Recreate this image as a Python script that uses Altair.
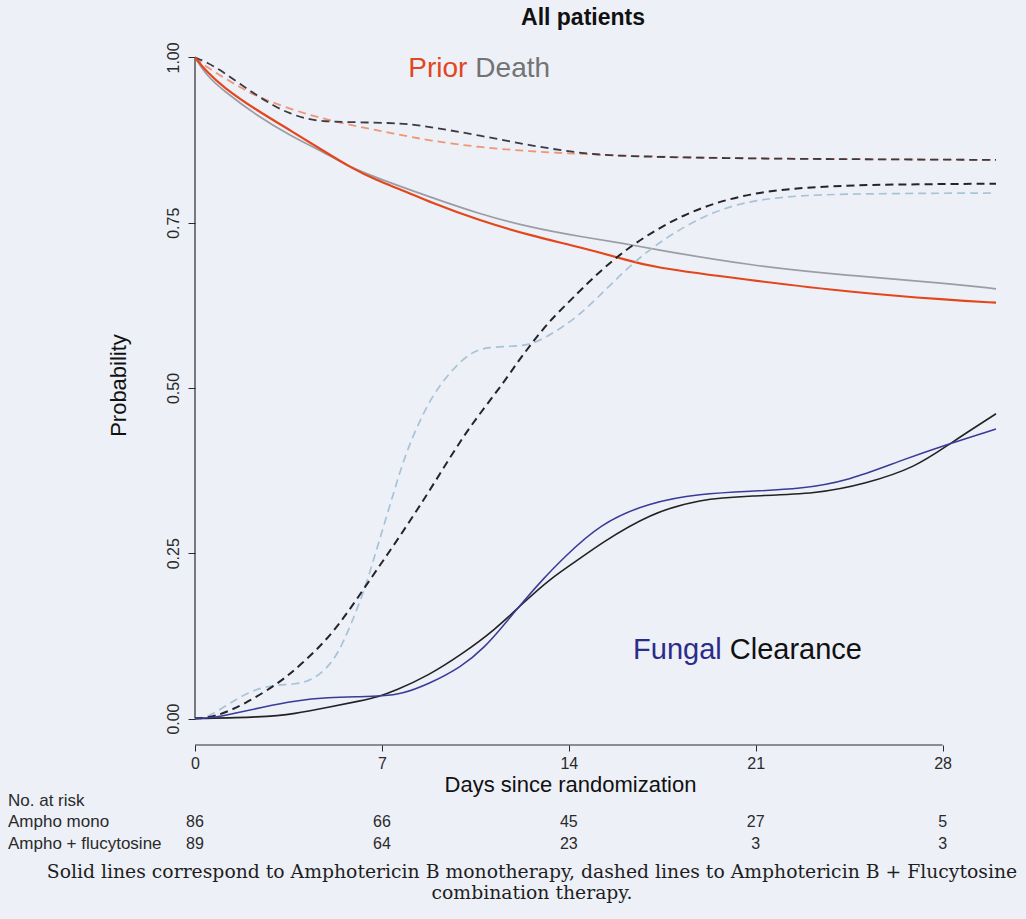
import altair as alt
import pandas as pd

# ---- curves: cumulative probability by day since randomization ----
prior_mono_day = [0, 0.44, 1.06, 2.31, 3.56, 4.8, 5.8, 6.8, 7.8, 8.8, 10.67, 12.54, 14.41, 16.16, 17.03, 20.8, 24.52, 28.27, 30]
prior_mono_p = [1.0, 0.978, 0.955, 0.920, 0.890, 0.859, 0.834, 0.814, 0.799, 0.781, 0.753, 0.731, 0.713, 0.694, 0.683, 0.663, 0.645, 0.633, 0.629]

death_mono_day = [0, 0.44, 1.06, 2.31, 3.56, 4.8, 5.8, 6.93, 8.8, 10.67, 12.54, 14.41, 16.16, 17.03, 20.8, 24.52, 28.27, 30]
death_mono_p = [1.0, 0.972, 0.950, 0.912, 0.882, 0.857, 0.834, 0.816, 0.789, 0.763, 0.743, 0.729, 0.718, 0.711, 0.685, 0.670, 0.658, 0.650]

prior_combo_day = [0, 0.44, 1.06, 1.68, 2.31, 3.56, 4.8, 6.05, 7.3, 8.8, 10.67, 12.54, 14.41, 17, 21, 25, 30]
prior_combo_p = [1.0, 0.985, 0.970, 0.955, 0.941, 0.922, 0.907, 0.896, 0.886, 0.874, 0.864, 0.858, 0.854, 0.850, 0.847, 0.846, 0.845]

death_combo_day = [0, 0.44, 1.06, 1.68, 2.31, 2.93, 3.56, 4.18, 4.8, 6.05, 7.3, 8.05, 8.8, 10.67, 12.54, 14.41, 16.16, 21, 25, 30]
death_combo_p = [1.0, 0.993, 0.978, 0.960, 0.943, 0.927, 0.915, 0.907, 0.903, 0.902, 0.901, 0.899, 0.895, 0.882, 0.867, 0.855, 0.850, 0.847, 0.846, 0.845]

fungal_mono_day = [0, 0.7, 1.5, 2.5, 3.74, 4.99, 6.24, 7.0, 7.74, 8.74, 9.98, 10.86, 11.6, 12.23, 13.1, 13.73, 15.16, 17.03, 18.9, 20.8, 22.65, 24.5, 26.4, 28.27, 30]
fungal_mono_p = [0, 0.001, 0.008, 0.017, 0.027, 0.032, 0.033, 0.034, 0.037, 0.052, 0.078, 0.108, 0.143, 0.174, 0.214, 0.240, 0.295, 0.327, 0.340, 0.344, 0.347, 0.360, 0.390, 0.416, 0.438]

clear_mono_day = [0, 2.5, 3.74, 4.99, 6.24, 6.86, 7.49, 8.74, 9.98, 11.23, 12.35, 13.29, 14.35, 15.16, 17.03, 18.9, 20.8, 23.3, 25.1, 27.0, 28.27, 30]
clear_mono_p = [0, 0.002, 0.007, 0.017, 0.027, 0.033, 0.042, 0.065, 0.097, 0.134, 0.177, 0.211, 0.240, 0.264, 0.310, 0.332, 0.337, 0.340, 0.355, 0.380, 0.416, 0.461]

fungal_combo_day = [0, 0.5, 1.25, 1.87, 2.5, 3.12, 3.74, 4.37, 4.99, 5.37, 5.8, 6.3, 6.68, 7.05, 7.43, 7.8, 8.3, 8.92, 9.67, 10.36, 11.0, 11.86, 12.5, 13.1, 14.35, 15.6, 17.03, 19.53, 22.0, 25, 30]
fungal_combo_p = [0, 0.002, 0.022, 0.037, 0.047, 0.051, 0.052, 0.057, 0.078, 0.100, 0.138, 0.189, 0.239, 0.289, 0.340, 0.390, 0.441, 0.491, 0.530, 0.555, 0.562, 0.563, 0.565, 0.575, 0.607, 0.658, 0.713, 0.774, 0.791, 0.794, 0.795]

clear_combo_day = [0, 0.75, 1.87, 3.12, 3.93, 5.18, 6.43, 7.67, 8.92, 10.17, 11.42, 12.04, 12.6, 13.29, 14.0, 15.8, 18.3, 20.8, 23.3, 26, 30]
clear_combo_p = [0, 0.002, 0.022, 0.053, 0.080, 0.128, 0.203, 0.275, 0.353, 0.436, 0.500, 0.537, 0.567, 0.602, 0.630, 0.703, 0.766, 0.796, 0.805, 0.808, 0.809]

# ---- number at risk ----
risk_days = [0, 7, 14, 21, 28]
risk_mono = [86, 66, 45, 27, 5]
risk_combo = [89, 64, 23, 3, 3]

caption_lines = [
    "Solid lines correspond to Amphotericin B monotherapy, dashed lines to Amphotericin B + Flucytosine",
    "combination therapy.",
]

W, H = 801, 714
SANS = "Liberation Sans"
INK = "#2a2a2a"

x_scale = alt.Scale(domain=[0, 30], nice=False, zero=False)
y_scale = alt.Scale(domain=[-0.04, 1.04], nice=False, zero=False)

x_axis = alt.Axis(
    values=risk_days, domain=False, grid=False, tickSize=6, tickColor=INK,
    labelFont=SANS, labelFontSize=16, labelColor=INK, labelPadding=4,
    labelFlush=False,
    title="Days since randomization", titleFont=SANS, titleFontSize=22,
    titleFontWeight="normal", titleColor="#111", titleX=375, titleY=39,
    titleBaseline="middle", titleAlign="center",
)
y_axis = alt.Axis(
    values=[0, 0.25, 0.5, 0.75, 1.0], format=".2f", domain=False, grid=False,
    tickSize=7, tickColor=INK, labelAngle=270, labelAlign="center",
    labelBaseline="alphabetic", labelPadding=10, labelFlush=False,
    labelFont=SANS, labelFontSize=16, labelColor=INK,
    title="Probability", titleFont=SANS, titleFontSize=22, titleFontWeight="normal",
    titleColor="#111", titleX=-77, titleY=354, titleBaseline="middle",
    titleAlign="center",
)

X = alt.X("day:Q", scale=x_scale, axis=x_axis)
Y = alt.Y("p:Q", scale=y_scale, axis=y_axis)


def curve(days, probs, color, width, dash=None):
    df = pd.DataFrame({"day": days, "p": probs})
    kw = dict(color=color, strokeWidth=width, interpolate="basis")
    if dash:
        kw["strokeDash"] = dash
    return alt.Chart(df).mark_line(**kw).encode(x=X, y=Y)


# axis lines span the labelled range only (days 0-28, probability 0-1)
x_line = alt.Chart(pd.DataFrame({"day": [0], "day2": [28]})).mark_rule(
    color=INK, strokeWidth=1
).encode(x=X, x2="day2:Q", y=alt.value(H))
y_line = alt.Chart(pd.DataFrame({"p": [0], "p2": [1]})).mark_rule(
    color=INK, strokeWidth=1.2
).encode(y=Y, y2="p2:Q", x=alt.value(0))

lines = [
    curve(prior_combo_day, prior_combo_p, "#ef9677", 1.8, [8, 5]),
    curve(death_combo_day, death_combo_p, "#3a3a44", 1.8, [8, 5]),
    curve(death_mono_day, death_mono_p, "#9c9ca4", 1.7),
    curve(prior_mono_day, prior_mono_p, "#e4461c", 2.2),
    curve(fungal_combo_day, fungal_combo_p, "#a7c3d8", 1.7, [8, 5]),
    curve(clear_combo_day, clear_combo_p, "#24242c", 2.0, [8, 5]),
    curve(clear_mono_day, clear_mono_p, "#222222", 1.6),
    curve(fungal_mono_day, fungal_mono_p, "#3a3a98", 1.5),
]


def label(text, day, p, color, align, dx, size=28):
    return alt.Chart(pd.DataFrame({"day": [day], "p": [p], "t": [text]})).mark_text(
        font=SANS, fontSize=size, color=color, align=align, baseline="middle", dx=dx
    ).encode(x=X, y=Y, text="t:N")


labels = [
    label("Prior", 10.35, 0.983, "#e2461c", "right", -4),
    label("Death", 10.35, 0.983, "#737373", "left", 4),
    label("Fungal", 19.88, 0.103, "#2b2b8a", "right", -4, 29),
    label("Clearance", 19.88, 0.103, "#111111", "left", 4, 29),
]


def static_text(text, px, py, size, align="left", font=SANS, color=INK, weight="normal"):
    return alt.Chart(pd.DataFrame({"t": [text]})).mark_text(
        font=font, fontSize=size, color=color, align=align, baseline="middle",
        fontWeight=weight,
    ).encode(x=alt.value(px), y=alt.value(py), text="t:N")


title = static_text("All patients", 388, -13, 23, "center", color="#111", weight="bold")

# number-at-risk table under the axis
row_y = [791, 813]
table = [
    static_text("No. at risk", -187, 770, 17),
    static_text("Ampho mono", -187, row_y[0], 17),
    static_text("Ampho + flucytosine", -187, row_y[1], 17),
]
for counts, yy in zip([risk_mono, risk_combo], row_y):
    df = pd.DataFrame({"day": risk_days, "n": counts})
    table.append(
        alt.Chart(df).mark_text(
            font=SANS, fontSize=16, color=INK, align="center", baseline="middle"
        ).encode(x=X, y=alt.value(yy), text="n:Q")
    )

caption = [
    static_text(caption_lines[0], 337, 841, 18.8, "center", "DejaVu Serif", "#1e1e1e"),
    static_text(caption_lines[1], 337, 862, 18.8, "center", "DejaVu Serif", "#1e1e1e"),
]

chart = alt.layer(
    x_line, y_line, *lines, *labels, title, *table, *caption
).properties(
    width=W, height=H,
    padding={"left": 195, "top": 31, "right": 30, "bottom": 174},
    autosize=alt.AutoSizeParams(type="none"),
    background="#edf0f7",
).configure_view(stroke=None)

chart.save("out.html", embed_options={"renderer": "svg", "actions": False})
